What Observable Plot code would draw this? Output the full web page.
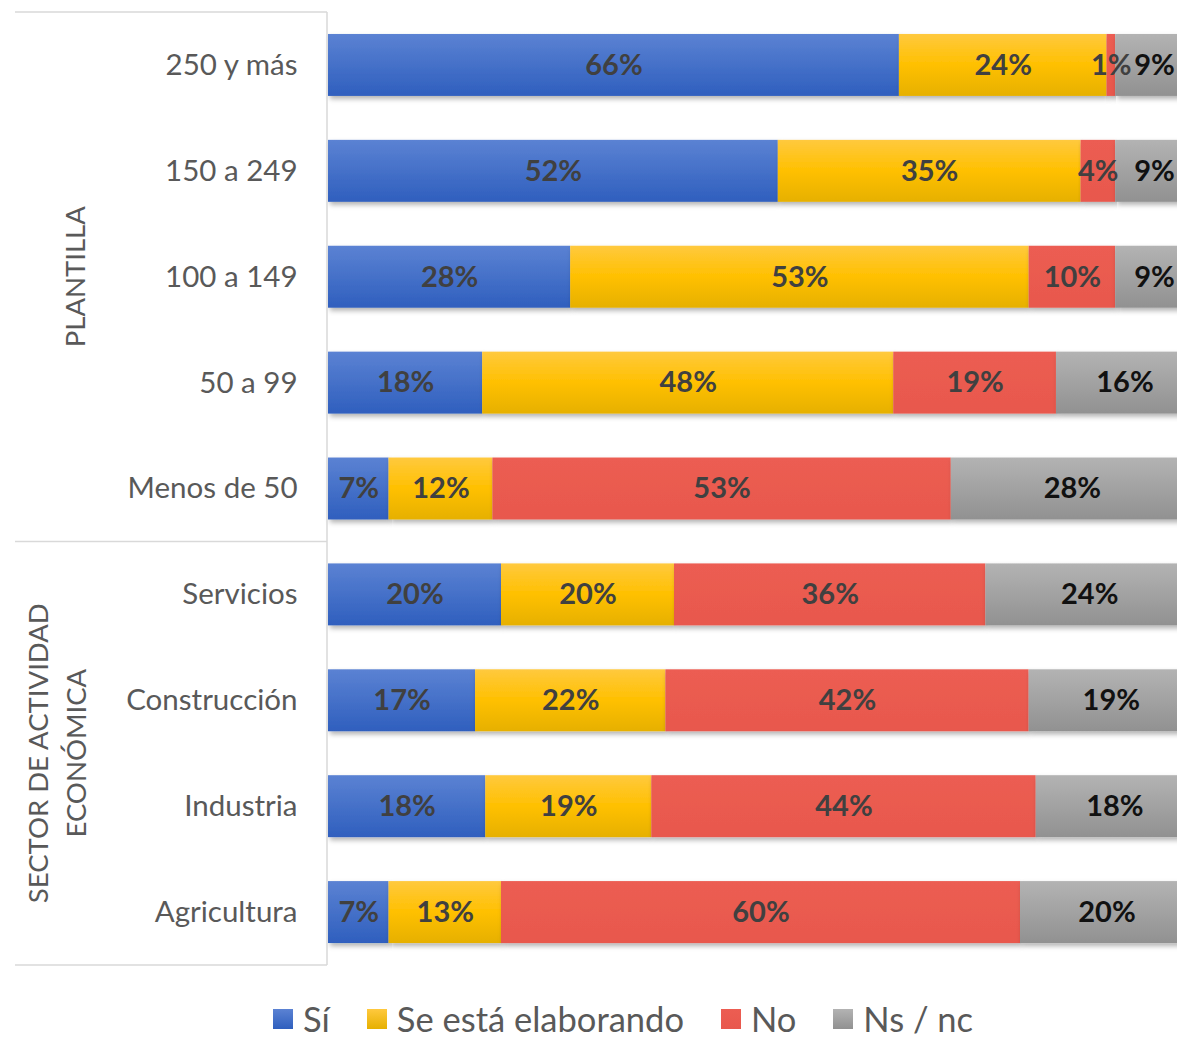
<!DOCTYPE html>
<html><head><meta charset="utf-8">
<script src="https://cdn.jsdelivr.net/npm/d3@7"></script>
<script src="https://cdn.jsdelivr.net/npm/@observablehq/plot@0.6"></script>
<style>
html,body{margin:0;background:#fff;font-family:Lato,"Open Sans",sans-serif;overflow:hidden;}
#chart{width:1177px;height:975px;overflow:hidden;}
#chart svg{max-width:none !important;}
#legend{display:flex;justify-content:flex-start;align-items:center;width:1177px;box-sizing:border-box;padding-left:273px;height:34px;margin-top:27px;font-size:34.5px;line-height:34px;color:#595959;}
.item{display:flex;align-items:center;margin-right:37px;}
.sw{width:20px;height:20px;margin-right:10px;}
</style></head><body>
<div id="chart"></div>
<div id="legend"></div>
<script>
const categories = ["250 y más","150 a 249","100 a 149","50 a 99","Menos de 50","Servicios","Construcción","Industria","Agricultura"];
const series = ["Sí","Se está elaborando","No","Ns / nc"];
const si    = [66,52,28,18,7,20,17,18,7];
const elab  = [24,35,53,48,12,20,22,19,13];
const no    = [1,4,10,19,53,36,42,44,60];
const nsnc  = [9,9,9,16,28,24,19,18,20];
const groups = [
  {label:["PLANTILLA"], cats:["250 y más","150 a 249","100 a 149","50 a 99","Menos de 50"]},
  {label:["SECTOR DE ACTIVIDAD","ECONÓMICA"], cats:["Servicios","Construcción","Industria","Agricultura"]}
];
const seriesValues = [si, elab, no, nsnc];
const gradIds = ["gSi","gElab","gNo","gNs"];
const gradStops = [
  ["#5B82D3","#2F5FBE"],
  ["#FFC93E","#E6B000"],
  ["#EC5D52","#E8584D"],
  ["#B3B3B3","#919191"]
];

const data = [];
categories.forEach((c,i)=>series.forEach((s,j)=>data.push({cat:c, series:s, value:seriesValues[j][i], label:seriesValues[j][i]+"%"})));

const font = "Lato, 'Open Sans', sans-serif";
const grayS = series[3];
// the plot area runs slightly past the visible right edge, as in the reference
const plot = Plot.plot({
  width:1193, height:975,
  marginLeft:328, marginRight:0, marginTop:12, marginBottom:10,
  style:{fontFamily:font, background:"#fff", maxWidth:"none"},
  x:{axis:null, domain:[0,1]},
  y:{domain:categories, paddingInner:0.415, paddingOuter:0.2075, round:false, label:null},
  color:{type:"ordinal", domain:series, range:gradIds.map(id=>`url(#${id})`)},
  marks:[
    Plot.axisY({tickSize:0, tickPadding:31, fontSize:29.5, color:"#595959", label:null}),
    Plot.barX(data, Plot.stackX({x:"value", y:"cat", fill:"series", offset:"normalize", order:series})),
    Plot.text(data, Plot.stackX({x:"value", y:"cat", z:"series", offset:"normalize", order:series,
      text: d=>d.series!==grayS ? d.label : null, fill:"#404040", fontSize:29, fontWeight:"bold"})),
    Plot.text(data, Plot.stackX({x:"value", y:"cat", z:"series", offset:"normalize", order:series,
      text: d=>d.series===grayS ? d.label : null, fill:"#111111", fontSize:29, fontWeight:"bold"}))
  ]
});
plot.style.maxWidth = "none";
plot.style.width = "1193px";
plot.style.height = "975px";

const svg = d3.select(plot);
const defs = svg.insert("defs", ":first-child");
gradIds.forEach((id,k)=>{
  const g = defs.append("linearGradient").attr("id",id).attr("x1",0).attr("y1",0).attr("x2",0).attr("y2",1);
  g.append("stop").attr("offset","0%").attr("stop-color",gradStops[k][0]);
  if (k===1) g.append("stop").attr("offset","50%").attr("stop-color","#FFC000");
  g.append("stop").attr("offset","100%").attr("stop-color",gradStops[k][1]);
});
const shadowF = defs.append("filter").attr("id","shadow").attr("x","-5%").attr("y","-20%").attr("width","110%").attr("height","160%");
shadowF.append("feDropShadow").attr("dx",2).attr("dy",3).attr("stdDeviation",2.5).attr("flood-color","#000").attr("flood-opacity",0.3);
svg.selectAll("g[aria-label='bar'] rect").attr("filter","url(#shadow)");

// left table lines and group labels, from the y scale
const yS = plot.scale("y");
const bw = yS.bandwidth, gapHalf = (yS.step - bw) / 2;
const xLeft = 15, xRight = 327;
const ov = svg.append("g");
const lineColor = "#D9D9D9";
const yTop = yS.apply(categories[0]) - gapHalf;
const yBottom = yS.apply(categories[categories.length-1]) + bw + gapHalf;
ov.append("line").attr("x1",xRight).attr("x2",xRight).attr("y1",yTop).attr("y2",yBottom).attr("stroke",lineColor).attr("stroke-width",1.5);
[yTop, yS.apply(groups[1].cats[0]) - gapHalf, yBottom].forEach(v=>ov.append("line").attr("x1",xLeft).attr("x2",xRight).attr("y1",v).attr("y2",v).attr("stroke",lineColor).attr("stroke-width",1.5));
const groupX = [75, 57];
groups.forEach((g,k)=>{
  const a = yS.apply(g.cats[0]), b = yS.apply(g.cats[g.cats.length-1]) + bw;
  const cy = (a+b)/2, cx = groupX[k];
  const t = ov.append("text").attr("transform",`translate(${cx},${cy}) rotate(-90)`)
    .attr("text-anchor","middle").attr("fill","#595959").attr("font-size",27.5).attr("font-family",font);
  const n = g.label.length, lh = 38;
  g.label.forEach((l,i)=>t.append("tspan").attr("x",0).attr("y",(i-(n-1)/2)*lh).attr("dy","0.35em").text(l));
});

document.getElementById("chart").appendChild(plot);

// legend
const lg = d3.select("#legend");
series.forEach((s,k)=>{
  const it = lg.append("div").attr("class","item");
  it.append("div").attr("class","sw").style("background",`linear-gradient(${gradStops[k][0]}, ${gradStops[k][1]})`);
  it.append("span").text(s);
});
</script></body></html>
